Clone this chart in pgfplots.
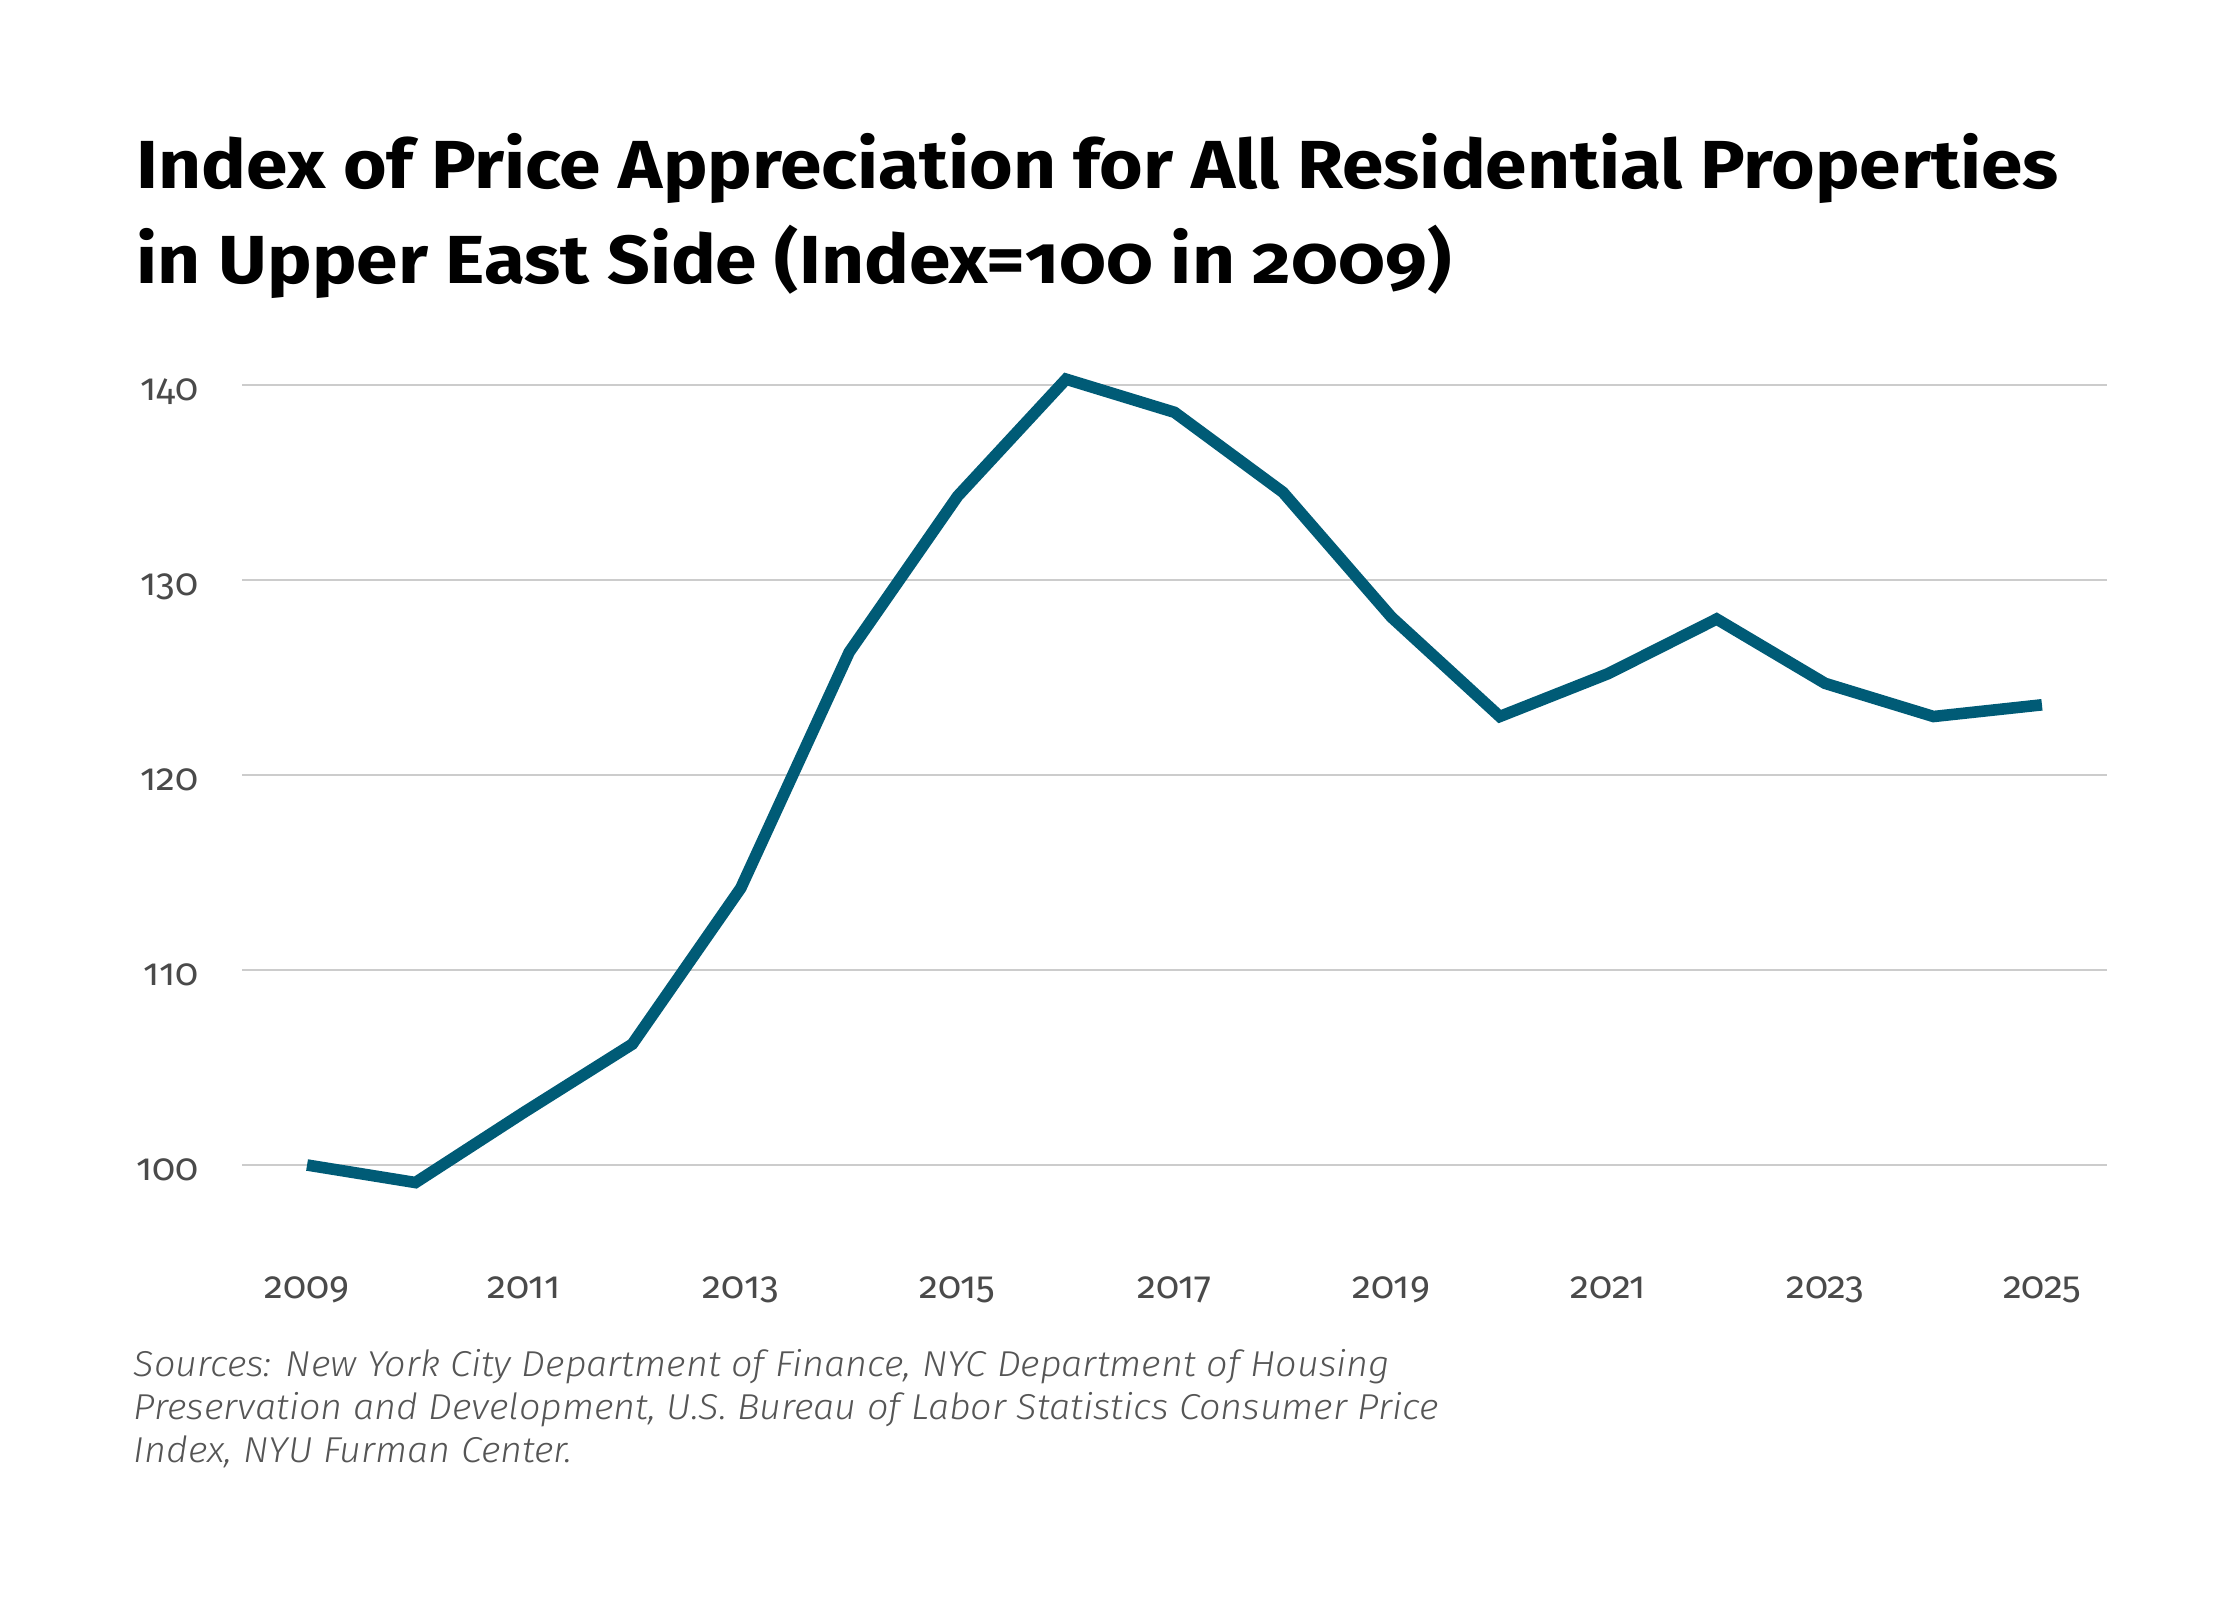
\documentclass[border=0pt]{standalone}
\usepackage{fontspec}
\setmainfont{Fira Sans}
\newfontfamily\tickfont{Fira Sans}[Numbers=OldStyle]
\newfontfamily\titlefont{Fira Sans}[Numbers=OldStyle, FakeStretch=1.10]
\newfontfamily\srcfont{Fira Sans Light}[Numbers=OldStyle, FakeStretch=1.05]
\usepackage{pgfplots}
\pgfplotsset{compat=1.18}
\definecolor{linecol}{HTML}{005B76}
\definecolor{gridcol}{HTML}{CCCCCC}
\definecolor{tickcol}{HTML}{4A4A4A}
\definecolor{srccol}{HTML}{555555}
\pgfplotstableread{
year value
2009 100.0
2010 99.1
2011 102.7
2012 106.2
2013 114.2
2014 126.3
2015 134.3
2016 140.3
2017 138.6
2018 134.5
2019 128.1
2020 123.0
2021 125.2
2022 128.0
2023 124.7
2024 123.0
2025 123.6
}\datatable
\begin{document}
\begin{tikzpicture}
\path[use as bounding box] (0,0) rectangle (560pt,400pt);
\node[anchor=base west, inner sep=0pt, font=\titlefont\bfseries\fontsize{17}{20}\selectfont] at (34.0pt,352.9pt) {Index of Price Appreciation for All Residential Properties};
\node[anchor=base west, inner sep=0pt, font=\titlefont\bfseries\fontsize{17}{20}\selectfont] at (34.0pt,329.2pt) {in Upper East Side (Index=100 in 2009)};
\begin{axis}[
  at={(60.5pt,84.375pt)}, anchor=south west,
  scale only axis, width=466.25pt, height=224.25pt,
  xmin=2008.4, xmax=2025.6, ymin=95, ymax=141,
  clip=false,
  axis line style={draw=none},
  tick style={draw=none},
  major tick length=0pt,
  ymajorgrids, grid style={gridcol, line width=0.55pt},
  xtick={2009,2011,...,2025},
  ytick={100,110,120,130,140},
  /pgf/number format/.cd, 1000 sep={}, assume math mode=true,
  /pgfplots/.cd,
  ticklabel style={font=\tickfont\fontsize{9.5}{11}\selectfont, text=tickcol, inner sep=0pt},
  xticklabel style={anchor=base, yshift=-9.1pt},
  yticklabel style={anchor=base east, xshift=-10.75pt, yshift=-3.75pt},
]
\addplot[linecol, line width=2.9pt, line join=miter] table[x=year, y=value] {\datatable};
\end{axis}
\begin{scope}[every node/.style={anchor=base west, inner sep=0pt, text=srccol, font=\srcfont\itshape\fontsize{9}{10}\selectfont}]
\node at (33.25pt,55.8pt) {Sources: New York City Department of Finance, NYC Department of Housing};
\node at (33.25pt,45.1pt) {Preservation and Development, U.S. Bureau of Labor Statistics Consumer Price};
\node at (33.25pt,34.4pt) {Index, NYU Furman Center.};
\end{scope}
\end{tikzpicture}
\end{document}
